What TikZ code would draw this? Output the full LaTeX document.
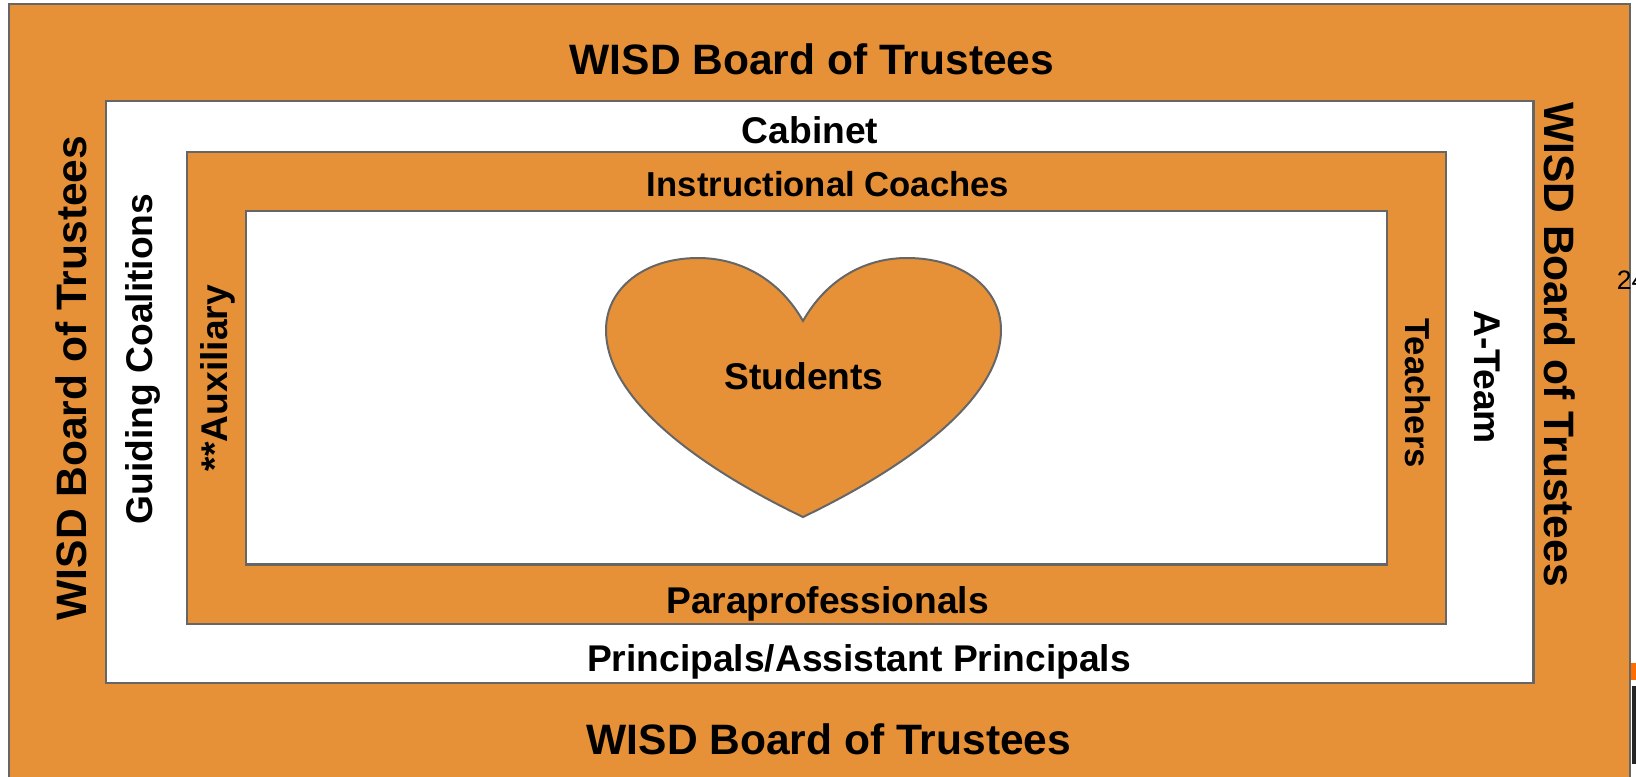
\documentclass[tikz,border=0pt]{standalone}
\usepackage{fontspec}
\setmainfont{Liberation Sans}
\definecolor{wisd}{HTML}{E69138}
\definecolor{edge}{HTML}{666666}
\definecolor{vivid}{HTML}{FF6D01}
\tikzset{
  x=0.75pt,y=-0.75pt,
  panel/.style={draw=edge,line width=1.7pt,fill=#1},
  big/.style={inner sep=0pt,font=\fontsize{31.9}{36}\selectfont\bfseries,text=black},
  mid/.style={inner sep=0pt,font=\fontsize{27.9}{32}\selectfont\bfseries,text=black},
  small/.style={inner sep=0pt,font=\fontsize{26}{30}\selectfont\bfseries,text=black},
}
\begin{document}
\begin{tikzpicture}
\useasboundingbox (0,0) rectangle (1636,776);
\clip (0,0) rectangle (1636,776);
\fill[white] (0,0) rectangle (1636,776);
\fill[vivid] (1631,663) rectangle (1636,680);
\fill[black!85] (1632,686) rectangle (1636,764);
\draw[panel=wisd] (9,4) rectangle (1630,790);
\draw[panel=white] (106,101) rectangle (1533.5,683);
\draw[panel=wisd] (187,152) rectangle (1446,624);
\draw[panel=white] (246,211) rectangle (1387,564.5);
\draw[panel=wisd,line width=1.5pt] (803,321)
  .. controls (825,282) and (862,258) .. (907,258)
  .. controls (962,258) and (1001,288) .. (1001,330)
  .. controls (1001,400) and (905,468) .. (803,517)
  .. controls (701,468) and (606,400) .. (606,330)
  .. controls (606,288) and (645,258) .. (698,258)
  .. controls (743,258) and (781,282) .. (803,321) -- cycle;
\node[big] (top) at (812,59.5) {WISD Board of Trustees};
\node[big] (bottom) at (829,739.5) {WISD Board of Trustees};
\node[big,rotate=90] (left) at (71,378) {WISD Board of Trustees};
\node[big,rotate=-90] (right) at (1560,344.5) {WISD Board of Trustees};
\node[mid] (cabinet) at (810,130.5) {Cabinet};
\node[mid] (principals) at (859,661.5) {Principals/Assistant Principals};
\node[mid,rotate=90] (guiding) at (143,359) {Guiding Coalitions};
\node[mid,rotate=-90] (ateam) at (1487,377) {A-Team};
\node[small] (coaches) at (828,184.5) {Instructional Coaches};
\node[mid] (para) at (827.5,604) {Paraprofessionals};
\node[mid,rotate=90] (aux) at (218,378) {**Auxiliary};
\node[small,rotate=-90] (teachers) at (1417.5,393) {Teachers};
\node[mid] (students) at (804,376.5) {Students};
\node[inner sep=0pt,font=\fontsize{20}{24}\selectfont,anchor=west] (pagenum) at (1616.5,280.5) {24};
\end{tikzpicture}
\end{document}
